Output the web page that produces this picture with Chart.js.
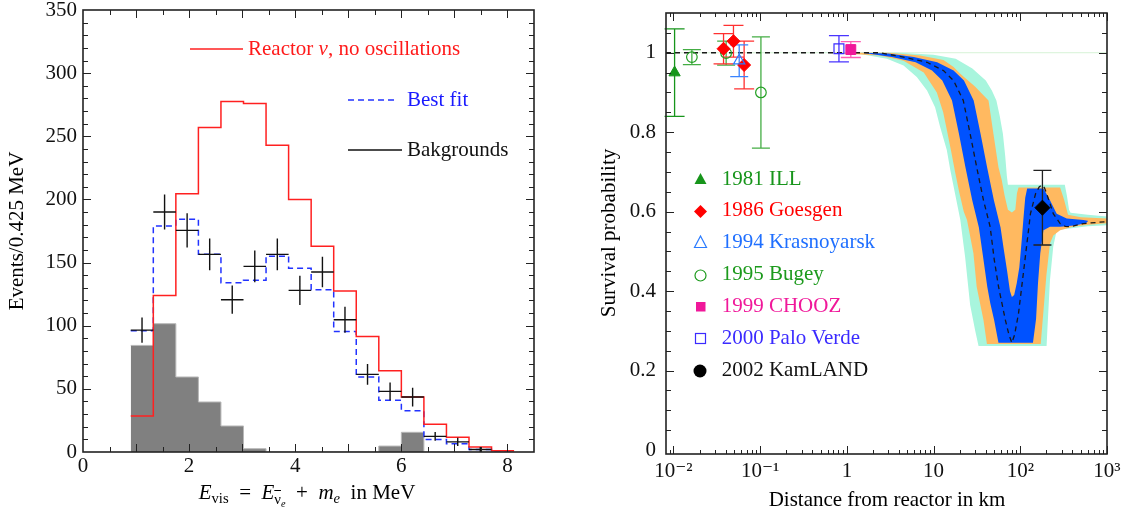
<!DOCTYPE html>
<html>
<head>
<meta charset="utf-8">
<script src="https://cdn.jsdelivr.net/npm/chart.js@4.4.1/dist/chart.umd.min.js"></script>
<style>
  body { margin: 0; background: #fff; width: 1125px; height: 529px; position: relative; overflow: hidden;
         font-family: "Liberation Serif", "Tinos", "Times New Roman", "DejaVu Serif", serif; }
  canvas { position: absolute; top: 0; }
  .txt { position: absolute; white-space: nowrap; font-size: 21px; line-height: 1; }
  .rot { position: absolute; white-space: nowrap; font-size: 21px; line-height: 1;
         transform: translate(-50%, -50%) rotate(-90deg); }
  sub { font-size: 0.7em; vertical-align: -0.3em; line-height: 0; }
</style>
</head>
<body>
<canvas id="spectrum" width="560" height="529" style="left:0"></canvas>
<canvas id="survival" width="565" height="529" style="left:560px"></canvas>

<svg width="1125" height="529" style="position:absolute;left:0;top:0;pointer-events:none">
  <line x1="190" y1="49" x2="243" y2="49" stroke="#ff2020" stroke-width="1.5"/>
  <line x1="348" y1="100" x2="397" y2="100" stroke="#2233ff" stroke-width="1.5" stroke-dasharray="6 4"/>
  <line x1="348" y1="150" x2="402" y2="150" stroke="#111" stroke-width="1.5"/>
  <polygon points="700.5,173 706.5,184 694.5,184" fill="#17951b"/>
  <polygon points="700.5,205 707,211.5 700.5,218 694,211.5" fill="#ff0000"/>
  <polygon points="700.5,236 706.5,247.5 694.5,247.5" fill="none" stroke="#2a7bff" stroke-width="1.2"/>
  <circle cx="700.5" cy="275.5" r="5.5" fill="none" stroke="#1c9a1c" stroke-width="1.2"/>
  <rect x="696" y="302" width="9.5" height="9.5" fill="#f0189a"/>
  <rect x="695.5" y="333.5" width="10" height="10" fill="none" stroke="#3b2bff" stroke-width="1.2"/>
  <circle cx="700" cy="371" r="6.5" fill="#000"/>
</svg>

<div class="txt" style="left:248px;top:38.4px;color:#ff1a1a">Reactor <i>ν</i>, no oscillations</div>
<div class="txt" style="left:407px;top:89.4px;color:#1a1aff">Best fit</div>
<div class="txt" style="left:407px;top:139.4px;color:#111">Bakgrounds</div>
<div class="rot" style="left:16px;top:231px">Events/0.425 MeV</div>
<div class="txt" style="left:107px;top:482.4px;width:400px;text-align:center">
  <i>E</i><sub>vis</sub>&nbsp; = &nbsp;<i>E</i><sub><span style="text-decoration:overline">ν</span><sub><i>e</i></sub></sub>&nbsp; + &nbsp;<i>m</i><sub><i>e</i></sub>&nbsp; in MeV
</div>

<div class="txt" style="left:721.7px;top:167.7px;color:#17951b">1981 ILL</div>
<div class="txt" style="left:721.7px;top:199.4px;color:#ff0000">1986 Goesgen</div>
<div class="txt" style="left:721.7px;top:231.1px;color:#1f6fff">1994 Krasnoyarsk</div>
<div class="txt" style="left:721.7px;top:262.7px;color:#1c9a1c">1995 Bugey</div>
<div class="txt" style="left:721.7px;top:294.9px;color:#f0189a">1999 CHOOZ</div>
<div class="txt" style="left:721.7px;top:327.2px;color:#3b2bff">2000 Palo Verde</div>
<div class="txt" style="left:721.7px;top:359.4px;color:#111">2002 KamLAND</div>
<div class="rot" style="left:608px;top:233px">Survival probability</div>
<div class="txt" style="left:687px;top:489.4px;width:400px;text-align:center">Distance from reactor in km</div>

<script>
// left panel: prompt energy spectrum, bins of 0.425 MeV
const binLowEdges = [0.9, 1.325, 1.75, 2.175, 2.6, 3.025, 3.45, 3.875, 4.3, 4.725, 5.15, 5.575, 6.0, 6.425, 6.85, 7.275, 7.7];
const binTopEdge = 8.125;
const noOscillation = [28.5, 124, 204.5, 257, 277.6, 276, 243, 200, 163, 127.5, 91.5, 64.4, 43.5, 22, 11.6, 4, 1];
const bestFit = [96, 179, 184.4, 156.5, 134, 136, 155, 145.6, 128.5, 95.5, 59.4, 41, 32.7, 9.8, 6.6, 2, 1];
const backgrounds = [84.4, 101.6, 59.4, 39.6, 20.6, 2.6, 0, 0, 0, 0, 0, 4.7, 15.6, 0, 0, 0, 0];
const observed = [96.5, 190, 175.5, 156.5, 120.6, 147, 156.5, 128, 142.5, 104.7, 61.5, 48, 43.5, 12.4, 8, 2, null];
const observedErr = [10, 13.9, 13.6, 12.5, 11.2, 12.5, 12.5, 11.5, 12.1, 10.3, 8.2, 7, 7.4, 3.4, 3.3, 2, null];
const energyTicks = [0, 2, 4, 6, 8];
const eventTicks = [0, 50, 100, 150, 200, 250, 300, 350];

// right panel: survival probability vs distance (km)
const distTicks = [0.01, 0.1, 1, 10, 100, 1000];
const distLabels = ['10⁻²', '10⁻¹', '1', '10', '10²', '10³'];
const probTicks = [0, 0.2, 0.4, 0.6, 0.8, 1];
const probLabels = ['0', '0.2', '0.4', '0.6', '0.8', '1'];

const illKm = [0.0103], illP = [0.95], illErr = [0.11];
const goesgenKm = [0.0378, 0.0492, 0.0653], goesgenP = [1.01, 1.029, 0.969], goesgenErr = [0.038, 0.04, 0.06];
const krasnoyarskKm = [0.0573], krasnoyarskP = [0.98], krasnoyarskErr = [0.04];
const bugeyKm = [0.0163, 0.0405, 0.102], bugeyP = [0.989, 0.999, 0.9], bugeyErr = [0.019, 0.03, 0.14];
const choozKm = [1.11], choozP = [1.008], choozErr = [0.02];
const paloVerdeKm = [0.81], paloVerdeP = [1.01], paloVerdeErr = [0.033];
const kamlandKm = [180], kamlandP = [0.61], kamlandErr = [0.094];

// best-fit expectation (dashed) and the three allowed bands, outlines as [km, P]
const bestCurve = [[0.0082,1.0],[2.4,1.0],[4.5,0.989],[8.4,0.976],[13,0.955],[17,0.93],[22,0.88],[26.4,0.796],[31.4,0.712],
  [37.6,0.629],[44.9,0.562],[50,0.48],[56.1,0.411],[67.3,0.327],[74,0.29],[80,0.27],[86,0.29],[95.4,0.344],[112,0.47],
  [131,0.595],[150,0.645],[165,0.662],[177,0.667],[190,0.66],[201,0.646],[240,0.595],[288,0.57],[330,0.563],[377,0.562],
  [534,0.57],[1000,0.575]];
const band1 = [[1.5,1.0],[3.0,0.998],[5.9,0.989],[11,0.976],[17,0.955],[22.4,0.93],[29,0.88],[34.8,0.796],[41.4,0.712],
  [49.6,0.629],[59.2,0.56],[64,0.51],[70.2,0.453],[76,0.4],[80,0.385],[85,0.39],[91,0.42],[97.5,0.46],[104,0.53],
  [108.5,0.58],[114,0.635],[120,0.658],[185,0.658],[220,0.629],[263,0.595],[343,0.583],[534,0.579],[600,0.577],
  [600,0.575],[580,0.572],[445,0.566],[288,0.562],[220,0.562],[185,0.553],[170,0.495],[160,0.42],[152,0.33],[140,0.27],
  [56,0.27],[49.9,0.327],[45,0.37],[41.6,0.411],[37,0.49],[33.3,0.56],[27.9,0.629],[23.3,0.712],[19.6,0.796],[16.3,0.88],
  [12.6,0.93],[9.6,0.955],[6.2,0.976],[3.3,0.989],[1.5,1.0]];
const band2 = [[0.6,1.0],[3,1.0],[7,0.993],[13,0.982],[17,0.964],[20.3,0.947],[30,0.915],[43,0.88],[49,0.796],[56,0.712],
  [61,0.68],[66,0.64],[72,0.605],[80,0.598],[87.6,0.605],[91.5,0.646],[95.4,0.661],[288,0.661],[320,0.63],[355,0.592],
  [500,0.586],[1000,0.583],
  [1000,0.571],[600,0.567],[400,0.562],[288,0.553],[240,0.54],[220,0.52],[200,0.44],[185,0.35],[172,0.267],[41.2,0.267],
  [37.6,0.327],[31.4,0.411],[28.8,0.495],[24.3,0.579],[22.3,0.6],[19.7,0.65],[17.7,0.7],[16,0.75],[14.4,0.8],[12.9,0.85],
  [10.9,0.9],[7.7,0.95],[4.5,0.98],[2.4,0.993],[0.6,1.0]];
const band3 = [[0.5,1.0],[4,1.0],[10,0.995],[18,0.985],[28,0.96],[40,0.93],[47,0.905],[53,0.88],[58,0.84],[63,0.796],
  [67,0.74],[70,0.69],[72,0.668],[326,0.668],[345,0.64],[365,0.605],[380,0.597],[600,0.592],[1000,0.588],
  [1000,0.566],[600,0.563],[315,0.556],[263,0.553],[240,0.512],[220,0.428],[205,0.3],[201,0.262],[33,0.262],[30.2,0.3],
  [26.4,0.365],[23.1,0.486],[20.3,0.58],[15.6,0.704],[14.2,0.755],[11.9,0.813],[10.4,0.863],[8.4,0.905],[6.4,0.939],
  [4.5,0.968],[2.9,0.985],[1.42,0.997],[0.5,1.0]];
const noOscLine = [[0.0082,1.0],[1000,1.0],[1000,0.583]];

const serifStack = '"Liberation Serif", "Tinos", "Times New Roman", "DejaVu Serif", serif';
Chart.defaults.font.family = serifStack;
Chart.defaults.color = '#111';

const tickFont = {family: serifStack, size: 21};

function fixedBox(size) {
  return function (s) {
    if (s.isHorizontal()) s.height = size; else s.width = size;
    s.paddingTop = s.paddingBottom = s.paddingLeft = s.paddingRight = 0;
  };
}

function stepPoints(vals) {
  const pts = binLowEdges.map((e, i) => ({x: e, y: vals[i]}));
  pts.push({x: binTopEdge, y: vals[vals.length - 1]});
  return pts;
}

function pairs(list) {
  return list.map(p => ({x: p[0], y: p[1]}));
}

// box around the plot with inward tick marks on all four sides
const frameTicks = {
  id: 'frameTicks',
  afterDraw(chart, args, opts) {
    const {ctx, chartArea: a, scales: {x, y}} = chart;
    ctx.save();
    ctx.strokeStyle = '#222';
    ctx.lineWidth = 1;
    ctx.beginPath();
    for (const t of opts.xt) {
      const px = Math.round(x.getPixelForValue(t[0])) + 0.5;
      ctx.moveTo(px, a.bottom); ctx.lineTo(px, a.bottom - t[1]);
      ctx.moveTo(px, a.top); ctx.lineTo(px, a.top + t[1]);
    }
    for (const t of opts.yt) {
      const py = Math.round(y.getPixelForValue(t[0])) + 0.5;
      ctx.moveTo(a.left, py); ctx.lineTo(a.left + t[1], py);
      ctx.moveTo(a.right, py); ctx.lineTo(a.right - t[1], py);
    }
    ctx.stroke();
    ctx.lineWidth = 1.6;
    ctx.strokeRect(a.left, a.top, a.right - a.left, a.bottom - a.top);
    ctx.restore();
  }
};

// data crosses: horizontal bar over the bin, vertical statistical error
const crosses = {
  id: 'crosses',
  afterDatasetsDraw(chart) {
    const {ctx, scales: {x, y}} = chart;
    ctx.save();
    ctx.strokeStyle = '#111';
    ctx.lineWidth = 1.4;
    ctx.beginPath();
    observed.forEach((v, i) => {
      if (v == null) return;
      const x0 = x.getPixelForValue(binLowEdges[i]);
      const x1 = x.getPixelForValue(i + 1 < binLowEdges.length ? binLowEdges[i + 1] : binTopEdge);
      const xm = (x0 + x1) / 2, py = y.getPixelForValue(v);
      ctx.moveTo(x0, py); ctx.lineTo(x1, py);
      ctx.moveTo(xm, y.getPixelForValue(v + observedErr[i]));
      ctx.lineTo(xm, y.getPixelForValue(v - observedErr[i]));
    });
    ctx.stroke();
    ctx.restore();
  }
};

// error bars with caps, drawn just before the first marker dataset
const errorBars = {
  id: 'errorBars',
  beforeDatasetDraw(chart, args) {
    if (!chart.data.datasets[args.index].drawErrorsHere) return;
    const {ctx, scales: {x, y}} = chart;
    ctx.save();
    for (const ds of chart.data.datasets) {
      if (!ds.errors) continue;
      ctx.strokeStyle = ds.errColor;
      ctx.lineWidth = 1.3;
      ctx.beginPath();
      ds.data.forEach((p, i) => {
        const px = x.getPixelForValue(p.x);
        const top = y.getPixelForValue(p.y + ds.errors[i]);
        const bot = y.getPixelForValue(p.y - ds.errors[i]);
        ctx.moveTo(px, top); ctx.lineTo(px, bot);
        ctx.moveTo(px - ds.cap, top); ctx.lineTo(px + ds.cap, top);
        ctx.moveTo(px - ds.cap, bot); ctx.lineTo(px + ds.cap, bot);
      });
      ctx.stroke();
    }
    ctx.restore();
  }
};

// ---- left chart ----
const specXt = [];
for (let v = 0.5; v <= 8.01; v += 0.5) specXt.push([v, v % 1 === 0 ? 8 : 5]);
const specYt = [];
for (let v = 10; v < 350; v += 10) specYt.push([v, v % 50 === 0 ? 8 : 5]);

new Chart(document.getElementById('spectrum'), {
  type: 'line',
  data: {
    datasets: [
      {data: stepPoints(noOscillation), stepped: 'before', borderColor: '#ff2020', borderWidth: 1.5,
       pointRadius: 0, fill: false, order: 1},
      {data: stepPoints(bestFit), stepped: 'before', borderColor: '#2233ff', borderWidth: 1.5, borderDash: [6, 4],
       pointRadius: 0, fill: false, order: 2},
      {data: stepPoints(backgrounds), stepped: 'before', borderColor: '#b8b8b8', borderWidth: 1,
       backgroundColor: '#808080', pointRadius: 0, fill: 'origin', order: 3}
    ]
  },
  options: {
    responsive: false, animation: false, events: [],
    layout: {padding: {left: 0, right: 26, top: 10, bottom: 0}},
    plugins: {legend: {display: false}, tooltip: {enabled: false}, frameTicks: {xt: specXt, yt: specYt}},
    scales: {
      x: {type: 'linear', min: 0, max: 8.5,
          grid: {display: false, drawTicks: false}, border: {display: false},
          afterBuildTicks: s => { s.ticks = energyTicks.map(v => ({value: v})); },
          afterFit: fixedBox(77),
          ticks: {padding: 2.2, font: tickFont, color: '#111', maxRotation: 0, autoSkip: false}},
      y: {type: 'linear', min: 0, max: 350,
          grid: {display: false, drawTicks: false}, border: {display: false},
          afterBuildTicks: s => { s.ticks = eventTicks.map(v => ({value: v})); },
          afterFit: fixedBox(83),
          ticks: {padding: 6, font: tickFont, color: '#111', autoSkip: false}}
    }
  },
  plugins: [crosses, frameTicks]
});

// ---- right chart ----
const survXt = [];
for (let d = -3; d <= 3; d++) {
  for (let m = 1; m <= 9; m++) {
    const v = m * Math.pow(10, d);
    if (v >= 0.0082 && v <= 1000) survXt.push([v, m === 1 ? 8 : 4]);
  }
}
const survYt = [];
for (let k = 1; k <= 21; k++) survYt.push([k * 0.05, k % 4 === 0 ? 8 : 5]);

function markerSet(km, p, err, style) {
  return Object.assign({
    data: km.map((v, i) => ({x: v, y: p[i]})), errors: err, showLine: false, fill: false
  }, style);
}

new Chart(document.getElementById('survival'), {
  type: 'line',
  data: {
    datasets: [
      {data: pairs(noOscLine), borderColor: '#d6f3d6', borderWidth: 1, pointRadius: 0, fill: false, order: 20},
      {data: pairs(band3), backgroundColor: '#a8f5dd', borderWidth: 0, pointRadius: 0, fill: 'shape', order: 19},
      {data: pairs(band2), backgroundColor: '#ffb960', borderWidth: 0, pointRadius: 0, fill: 'shape', order: 18},
      {data: pairs(band1), backgroundColor: '#0052ff', borderWidth: 0, pointRadius: 0, fill: 'shape', order: 17},
      {data: pairs(bestCurve), borderColor: '#1a1a1a', borderWidth: 1.3, borderDash: [5, 4], pointRadius: 0,
       fill: false, order: 16},
      markerSet(illKm, illP, illErr, {pointStyle: 'triangle', pointRadius: 6.5, backgroundColor: '#17951b',
        borderColor: '#17951b', errColor: '#17951b', cap: 10, order: 7, drawErrorsHere: true}),
      markerSet(bugeyKm, bugeyP, bugeyErr, {pointStyle: 'circle', pointRadius: 5.3, backgroundColor: 'rgba(255,255,255,0)',
        borderColor: '#22a022', borderWidth: 1.2, errColor: '#44ad44', cap: 9, order: 6}),
      markerSet(goesgenKm, goesgenP, goesgenErr, {pointStyle: 'rectRot', pointRadius: 6.5, backgroundColor: '#ff0000',
        borderColor: '#ff0000', errColor: '#ff3030', cap: 10, order: 5}),
      markerSet(krasnoyarskKm, krasnoyarskP, krasnoyarskErr, {pointStyle: 'triangle', pointRadius: 6.5,
        backgroundColor: 'rgba(255,255,255,0)', borderColor: '#2a7bff', borderWidth: 1.2, errColor: '#3a84ff',
        cap: 9, order: 4}),
      markerSet(paloVerdeKm, paloVerdeP, paloVerdeErr, {pointStyle: 'rect', pointRadius: 7, backgroundColor: 'rgba(255,255,255,0)',
        borderColor: '#3b2bff', borderWidth: 1.2, errColor: '#4a35ff', cap: 10, order: 3}),
      markerSet(choozKm, choozP, choozErr, {pointStyle: 'rect', pointRadius: 7, backgroundColor: '#f0189a',
        borderColor: '#f0189a', errColor: '#ff5ab4', cap: 10, order: 2}),
      markerSet(kamlandKm, kamlandP, kamlandErr, {pointStyle: 'rectRot', pointRadius: 7.5, backgroundColor: '#000',
        borderColor: '#000', errColor: '#222', cap: 9, order: 1})
    ]
  },
  options: {
    responsive: false, animation: false, events: [],
    layout: {padding: {left: 0, right: 18, top: 13, bottom: 0}},
    plugins: {legend: {display: false}, tooltip: {enabled: false}, frameTicks: {xt: survXt, yt: survYt}},
    scales: {
      x: {type: 'logarithmic', min: 0.0082, max: 1000,
          grid: {display: false, drawTicks: false}, border: {display: false},
          afterBuildTicks: s => { s.ticks = distTicks.map(v => ({value: v})); },
          afterFit: fixedBox(75),
          ticks: {padding: 4.9, font: tickFont, color: '#111', maxRotation: 0, autoSkip: false,
                  callback: v => distLabels[distTicks.indexOf(v)]}},
      y: {type: 'linear', min: -0.01, max: 1.1,
          grid: {display: false, drawTicks: false}, border: {display: false},
          afterBuildTicks: s => { s.ticks = probTicks.map(v => ({value: v})); },
          afterFit: fixedBox(106),
          ticks: {padding: 10, font: tickFont, color: '#111', autoSkip: false,
                  callback: v => probLabels[probTicks.indexOf(v)]}}
    }
  },
  plugins: [errorBars, frameTicks]
});
</script>
</body>
</html>
